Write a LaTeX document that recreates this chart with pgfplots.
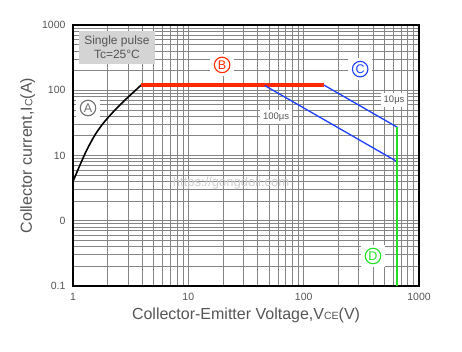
\documentclass[border=0pt]{standalone}
\usepackage{pgfplots}
\pgfplotsset{compat=1.18}
\usepackage{fontspec}
\setmainfont{Liberation Sans}
\definecolor{txt}{HTML}{555555}
\definecolor{gridc}{HTML}{858585}
\definecolor{myred}{HTML}{FF2A00}
\definecolor{myblue}{HTML}{1F3FFF}
\definecolor{mygreen}{HTML}{22E022}
\definecolor{boxgray}{HTML}{D4D4D4}
\definecolor{agray}{HTML}{707070}
\tikzset{
  circ/.style={circle, draw=#1, text=#1, line width=1.1pt, minimum size=15.5pt, inner sep=0pt, font=\fontsize{12.5}{12.5}\selectfont},
  wbg/.style={fill=white, minimum width=24pt, minimum height=22pt, inner sep=0pt},
}
\begin{document}
\begin{tikzpicture}
\path (-73pt,-66pt) rectangle (389pt,286pt);
\begin{axis}[
  at={(0,0)}, anchor=south west,
  scale only axis, width=346pt, height=261pt,
  xmode=log, ymode=log,
  xmin=1, xmax=1000, ymin=0.1, ymax=1000,
  xtick={1,10,100,1000}, xticklabels={1,10,100,1000},
  ytick={0.1,1,10,100,1000}, yticklabels={0.1,0,10,100,1000},
  minor xtick={2,3,4,5,6,7,8,9,20,30,40,50,60,70,80,90,200,300,400,500,600,700,800,900},
  minor ytick={0.2,0.3,0.4,0.5,0.6,0.7,0.8,0.9,2,3,4,5,6,7,8,9,20,30,40,50,60,70,80,90,200,300,400,500,600,700,800,900},
  grid=both,
  major grid style={draw=gridc, line width=0.75pt},
  minor grid style={draw=gridc, line width=0.75pt},
  major tick length=0pt, minor tick length=0pt,
  axis line style={line width=2.4pt, black},
  tick label style={font=\fontsize{10.5}{12}\selectfont, text=txt},
  xticklabel style={yshift=-4pt},
  yticklabel style={xshift=-4pt},
  label style={font=\fontsize{16}{18}\selectfont, text=txt},
  xlabel={Collector-Emitter Voltage,V\raisebox{-0.5pt}{\fontsize{10.5}{12}\selectfont CE}(V)},
  ylabel={Collector current,I\raisebox{-0.5pt}{\fontsize{10.5}{12}\selectfont C}(A)},
]
% watermark
\node[text={rgb,255:red,205;green,205;blue,205}, font=\fontsize{13}{14}\selectfont] at (rel axis cs:0.457,0.395) {https://gongdoli.com};
% A curve
\addplot[black, line width=1.6pt, smooth] coordinates {(1,4) (1.15,7.15) (1.315,12.1) (1.55,20.6) (1.83,31.2) (2.24,46.9) (2.83,71) (3.4,96) (3.9,120)};
% B line
\addplot[myred, line width=3.2pt] coordinates {(3.9,120) (150,120)};
% C lines
\addplot[myblue, line width=1.3pt] coordinates {(150,120) (650,27)};
\addplot[myblue, line width=1.3pt] coordinates {(46,118) (650,8)};
% D line
\addplot[mygreen, line width=2pt] coordinates {(650,27) (650,0.1)};
% labels
\node[fill=boxgray, minimum width=76pt, minimum height=33pt, inner sep=0pt, align=center, text=txt, font=\fontsize{12}{14}\selectfont] at (rel axis cs:0.127,0.915) {Single pulse\\Tc=25°C};
\node[fill=white, inner sep=3pt, text=txt, font=\fontsize{9.5}{11}\selectfont] at (rel axis cs:0.928,0.713) {10μs};
\node[fill=white, inner sep=3pt, text=txt, font=\fontsize{9.5}{11}\selectfont] at (rel axis cs:0.587,0.648) {100μs};
\node[wbg] at (rel axis cs:0.0434,0.682) {};
\node[circ=agray] at (rel axis cs:0.0434,0.682) {A};
\node[wbg] at (rel axis cs:0.431,0.847) {};
\node[circ=myred] at (rel axis cs:0.431,0.847) {B};
\node[wbg] at (rel axis cs:0.830,0.831) {};
\node[circ=myblue] at (rel axis cs:0.830,0.831) {C};
\node[wbg] at (rel axis cs:0.867,0.115) {};
\node[circ=mygreen] at (rel axis cs:0.867,0.115) {D};
\end{axis}
\end{tikzpicture}
\end{document}
